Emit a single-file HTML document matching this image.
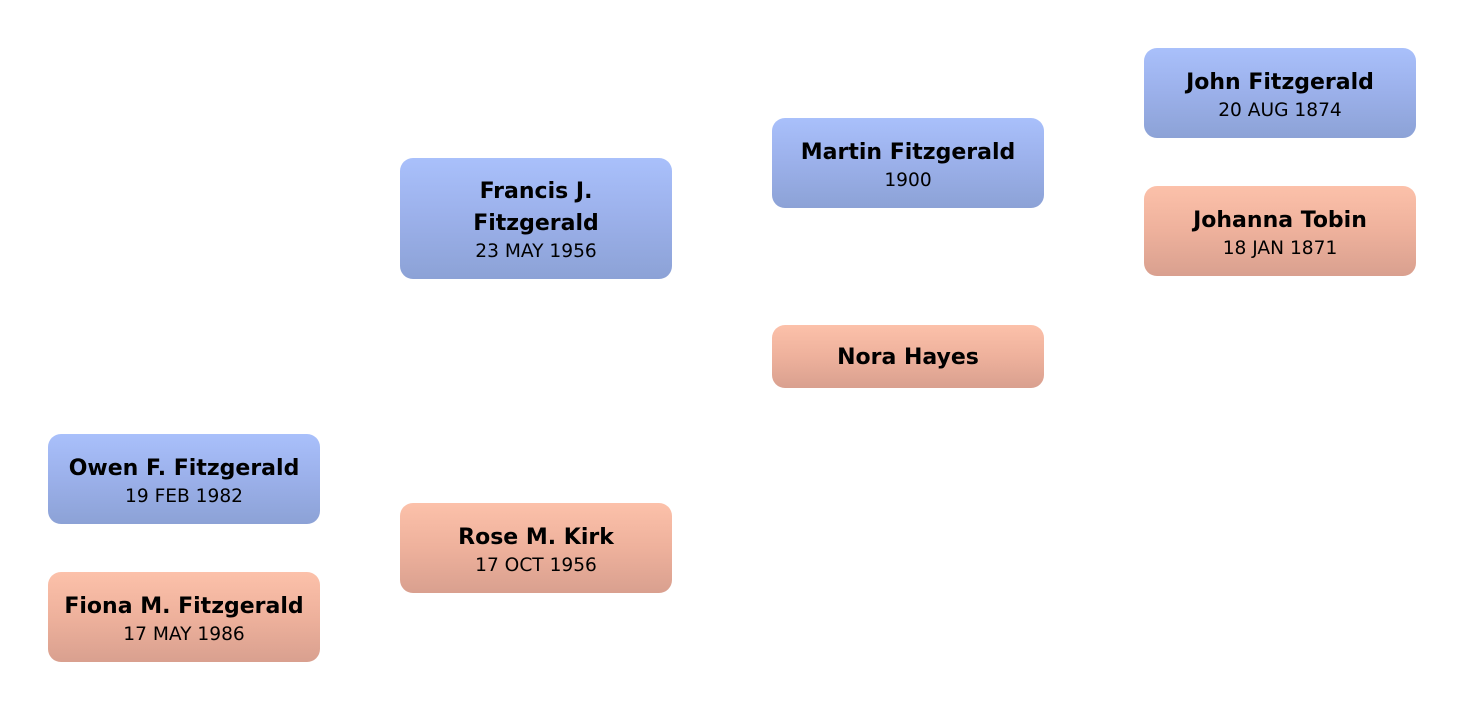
<!DOCTYPE html>
<html>
<head>
<meta charset="utf-8">
<style>
  html, body { margin:0; padding:0; background:#ffffff; }
  body { width:1464px; height:710px; position:relative; overflow:hidden;
         font-family:"DejaVu Sans","Liberation Sans",sans-serif; color:#000; }
  .box { position:absolute; width:272px; border-radius:13px; box-sizing:border-box;
         display:flex; flex-direction:column; justify-content:center; align-items:center;
         text-align:center; padding-top:2px; }
  .m { background:linear-gradient(to bottom, #a9c0fb 0%, #9bb0ea 50%, #8ca2d6 100%); }
  .f { background:linear-gradient(to bottom, #fcc1aa 0%, #eeb19c 50%, #d9a08f 100%); }
  .n { font-weight:bold; font-size:22px; line-height:32px; }
  .d { font-size:18.6px; line-height:22px; margin-top:1px; }
</style>
</head>
<body>

<div class="box m" style="left:1144px; top:48px; height:90px;">
  <div class="n">John Fitzgerald</div>
  <div class="d">20 AUG 1874</div>
</div>

<div class="box f" style="left:1144px; top:186px; height:90px;">
  <div class="n">Johanna Tobin</div>
  <div class="d">18 JAN 1871</div>
</div>

<div class="box m" style="left:772px; top:118px; height:90px;">
  <div class="n">Martin Fitzgerald</div>
  <div class="d">1900</div>
</div>

<div class="box f" style="left:772px; top:325px; height:63px;">
  <div class="n">Nora Hayes</div>
</div>

<div class="box m" style="left:400px; top:158px; height:121px;">
  <div class="n">Francis J.<br>Fitzgerald</div>
  <div class="d">23 MAY 1956</div>
</div>

<div class="box f" style="left:400px; top:503px; height:90px;">
  <div class="n">Rose M. Kirk</div>
  <div class="d">17 OCT 1956</div>
</div>

<div class="box m" style="left:48px; top:434px; height:90px;">
  <div class="n">Owen F. Fitzgerald</div>
  <div class="d">19 FEB 1982</div>
</div>

<div class="box f" style="left:48px; top:572px; height:90px;">
  <div class="n">Fiona M. Fitzgerald</div>
  <div class="d">17 MAY 1986</div>
</div>

</body>
</html>
